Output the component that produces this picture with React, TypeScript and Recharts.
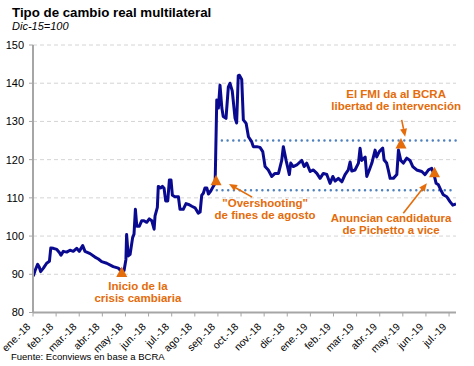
import React from "react";
import {
  CartesianGrid,
  Line,
  LineChart,
  ReferenceDot,
  ReferenceLine,
  XAxis,
  YAxis,
} from "recharts";

// mes desde ene-18 (0 = 1 ene 2018)
const meses = [
  0.01, 0.09, 0.2, 0.27, 0.33, 0.45, 0.59, 0.71, 0.77, 0.88, 1.03, 1.14, 1.21, 1.31, 1.46, 1.6, 1.74,
  1.89, 2.0, 2.15, 2.25, 2.47, 2.68, 2.83, 2.97, 3.19, 3.47, 3.69, 3.84, 3.94, 4.02, 4.05, 4.12, 4.2,
  4.31, 4.37, 4.43, 4.49, 4.6, 4.7, 4.8, 4.92, 5.03, 5.14, 5.24, 5.28, 5.38, 5.42, 5.53, 5.6, 5.67,
  5.74, 5.83, 5.9, 5.97, 6.03, 6.14, 6.29, 6.36, 6.5, 6.62, 6.76, 6.87, 7.01, 7.15, 7.23, 7.3, 7.37,
  7.44, 7.52, 7.59, 7.69, 7.8, 7.88, 7.95, 8.02, 8.09, 8.17, 8.23, 8.35, 8.45, 8.52, 8.62, 8.74, 8.81,
  8.88, 8.93, 9.03, 9.1, 9.22, 9.32, 9.46, 9.53, 9.68, 9.82, 9.94, 10.04, 10.18, 10.33, 10.47, 10.62,
  10.76, 10.83, 10.95, 11.09, 11.15, 11.26, 11.41, 11.63, 11.73, 11.84, 11.99, 12.13, 12.28, 12.42,
  12.56, 12.71, 12.85, 12.97, 13.07, 13.21, 13.36, 13.5, 13.64, 13.72, 13.79, 13.93, 14.08, 14.15,
  14.22, 14.37, 14.44, 14.55, 14.66, 14.8, 14.87, 14.98, 15.13, 15.19, 15.3, 15.37, 15.45, 15.59,
  15.74, 15.81, 15.91, 16.02, 16.17, 16.31, 16.43, 16.6, 16.82, 16.96, 17.11, 17.25, 17.35, 17.44,
  17.54, 17.64, 17.75, 17.9, 18.04, 18.16, 18.3,
];

const tcrm = [
  89.5, 91, 92.6, 91.9, 90.7, 91.6, 92.9, 93.4, 96.9, 96.8, 96.5, 95.7, 95, 96, 95.8, 96.3, 96, 96.8,
  96, 97.5, 96, 95.4, 94.5, 94, 93.3, 92.9, 92, 91.6, 90.7, 91, 93.9, 100.4, 94.8, 95.2, 99.6, 100.5,
  107, 102.6, 102.6, 104, 104, 103.6, 104.5, 104, 101.8, 105.3, 107.5, 113, 112.6, 113, 112.5, 109.2,
  109.2, 114.7, 114.7, 110.7, 110.3, 110.3, 107, 107, 108.5, 108.2, 107.8, 107.4, 106, 106.3, 110.7,
  111.2, 112.6, 112.6, 111, 111.8, 113, 113.8, 135.6, 133.5, 139.5, 133.5, 131.3, 130.8, 139, 140, 138,
  130.9, 129.6, 142, 142.1, 141, 130.4, 129.5, 126, 124.7, 123.4, 123.4, 123.2, 122.1, 118.2, 117.3,
  115.6, 116.4, 116.4, 119.8, 123.4, 119.8, 116.1, 119.1, 118.2, 118.6, 119.8, 118.2, 119.1, 116.9,
  117.3, 116.4, 115.1, 116.4, 116.1, 113.8, 115.6, 114.4, 115.1, 114.2, 116.1, 117.3, 119.4, 117,
  117.3, 119.1, 123, 119.8, 120.7, 115.6, 117.3, 119.1, 122.5, 120.7, 122.1, 123, 119.9, 119.1, 117.3,
  115.1, 115.1, 116.1, 122.5, 119.8, 119.1, 120.4, 119.8, 118.2, 117.3, 116.9, 116.1, 117.3, 117.7,
  116.1, 113.8, 113.4, 112.1, 110.8, 110.3, 109, 108.1, 108.4,
];

const monthLabels = [
  "ene.-18", "feb.-18", "mar.-18", "abr.-18", "may.-18", "jun.-18", "jul.-18", "ago.-18", "sep.-18",
  "oct.-18", "nov.-18", "dic.-18", "ene.-19", "feb.-19", "mar.-19", "abr.-19", "may.-19", "jun.-19",
  "jul.-19",
];

const yTicks = [80, 90, 100, 110, 120, 130, 140, 150];

// bandas punteadas: [desde, hasta, nivel]
const bandas = [
  [7.95, 18.3, 112],
  [8.17, 18.3, 125],
];

// eventos (triángulos)
const eventos = [
  [3.84, 90.6],
  [7.92, 114.6],
  [15.92, 124.2],
  [17.37, 116.7],
];

// flechas: [x cola, y cola, x punta, y punta]
const flechas = [
  [9.48, 110.2, 8.48, 113.6],
  [15.95, 130.4, 16.1, 126.0],
  [16.02, 106.0, 17.04, 113.8],
];

const notas = [
  { x: 4.54, y: 85.9, lines: ["Inicio de la", "crisis cambiaria"] },
  { x: 10.04, y: 107.6, lines: ['"Overshooting"', "de fines de agosto"] },
  { x: 15.71, y: 136.15, lines: ["El FMI da al BCRA", "libertad de intervención"] },
  { x: 15.49, y: 103.8, lines: ["Anuncian candidatura", "de Pichetto a vice"] },
];

const serie = meses.map((m, i) => ({ m, v: tcrm[i] }));

const ORANGE = "#e46c0a";
const FONT = "'Liberation Sans', Arial, sans-serif";

const Triangle = (props: any) => {
  const { cx, cy } = props;
  return (
    <polygon
      points={`${cx - 5.5},${cy + 5} ${cx + 5.5},${cy + 5} ${cx},${cy - 5.5}`}
      fill={ORANGE}
    />
  );
};

const Arrow = (props: any) => {
  const { x1, y1, x2, y2 } = props;
  const dx = x2 - x1;
  const dy = y2 - y1;
  const len = Math.sqrt(dx * dx + dy * dy) || 1;
  const ux = dx / len;
  const uy = dy / len;
  const bx = x2 - ux * 8;
  const by = y2 - uy * 8;
  return (
    <g>
      <line x1={x1} y1={y1} x2={bx} y2={by} stroke={ORANGE} strokeWidth={1.6} />
      <polygon
        points={`${x2},${y2} ${bx - uy * 3.5},${by + ux * 3.5} ${bx + uy * 3.5},${by - ux * 3.5}`}
        fill={ORANGE}
      />
    </g>
  );
};

const makeNote = (lines: string[]) => (props: any) => {
  const { cx, cy } = props;
  return (
    <text
      x={cx}
      y={cy}
      textAnchor="middle"
      fill={ORANGE}
      fontFamily={FONT}
      fontWeight="bold"
      fontSize={11.5}
    >
      {lines.map((l, i) => (
        <tspan key={i} x={cx} dy={i === 0 ? 0 : 12}>
          {l}
        </tspan>
      ))}
    </text>
  );
};

const MonthTick = (props: any) => {
  const { x, y, payload } = props;
  const ax = x - 2;
  const ay = y + 9;
  return (
    <text
      x={ax}
      y={ay}
      transform={`rotate(-45, ${ax}, ${ay})`}
      textAnchor="end"
      fontFamily={FONT}
      fontSize={10.3}
      fill="#000"
    >
      {monthLabels[payload.value]}
    </text>
  );
};

export default function App() {
  return (
    <div
      style={{
        position: "absolute",
        left: 0,
        top: 0,
        width: 474,
        height: 366,
        background: "#fff",
        fontFamily: FONT,
      }}
    >
      <div style={{ position: "absolute", left: 12, top: 5, fontSize: 13.3, fontWeight: "bold", color: "#000" }}>
        Tipo de cambio real multilateral
      </div>
      <div style={{ position: "absolute", left: 12, top: 20, fontSize: 11, fontStyle: "italic", color: "#000" }}>
        Dic-15=100
      </div>
      <LineChart width={474} height={366} data={serie} margin={{ top: 45, right: 18, bottom: 0, left: 0 }}>
        <CartesianGrid vertical={false} stroke="#d4d4d4" strokeDasharray="4 3" />
        <XAxis
          type="number"
          dataKey="m"
          domain={[0, 18.3]}
          ticks={monthLabels.map((_, i) => i)}
          interval={0}
          height={53.5}
          tick={<MonthTick />}
          tickSize={4}
          axisLine={{ stroke: "#a6a6a6", strokeWidth: 2 }}
          tickLine={{ stroke: "#a6a6a6" }}
          allowDataOverflow
        />
        <YAxis
          domain={[80, 150]}
          ticks={yTicks}
          width={33}
          tickSize={4}
          tickMargin={5}
          axisLine={{ stroke: "#a6a6a6", strokeWidth: 2 }}
          tickLine={{ stroke: "#a6a6a6" }}
          tick={{ fill: "#000", fontSize: 11, fontFamily: FONT }}
        />
        {bandas.map(([a, b, y], i) => (
          <ReferenceLine
            key={`b${i}`}
            segment={[
              { x: a, y },
              { x: b, y },
            ]}
            stroke="#4f81bd"
            strokeWidth={2.4}
            strokeDasharray="0.1 5.6"
            strokeLinecap="round"
          />
        ))}
        <Line
          type="linear"
          dataKey="v"
          stroke="#0a0a90"
          strokeWidth={3}
          strokeLinejoin="round"
          dot={false}
          activeDot={false}
          isAnimationActive={false}
        />
        {eventos.map(([x, y], i) => (
          <ReferenceDot key={`e${i}`} x={x} y={y} r={5} shape={<Triangle />} />
        ))}
        {flechas.map(([x1, y1, x2, y2], i) => (
          <ReferenceLine
            key={`f${i}`}
            segment={[
              { x: x1, y: y1 },
              { x: x2, y: y2 },
            ]}
            shape={<Arrow />}
          />
        ))}
        {notas.map((n, i) => (
          <ReferenceDot key={`n${i}`} x={n.x} y={n.y} r={1} shape={makeNote(n.lines)} />
        ))}
      </LineChart>
      <div style={{ position: "absolute", left: 11, top: 351, fontSize: 9.5, color: "#000" }}>
        Fuente: Econviews en base a BCRA
      </div>
    </div>
  );
}
